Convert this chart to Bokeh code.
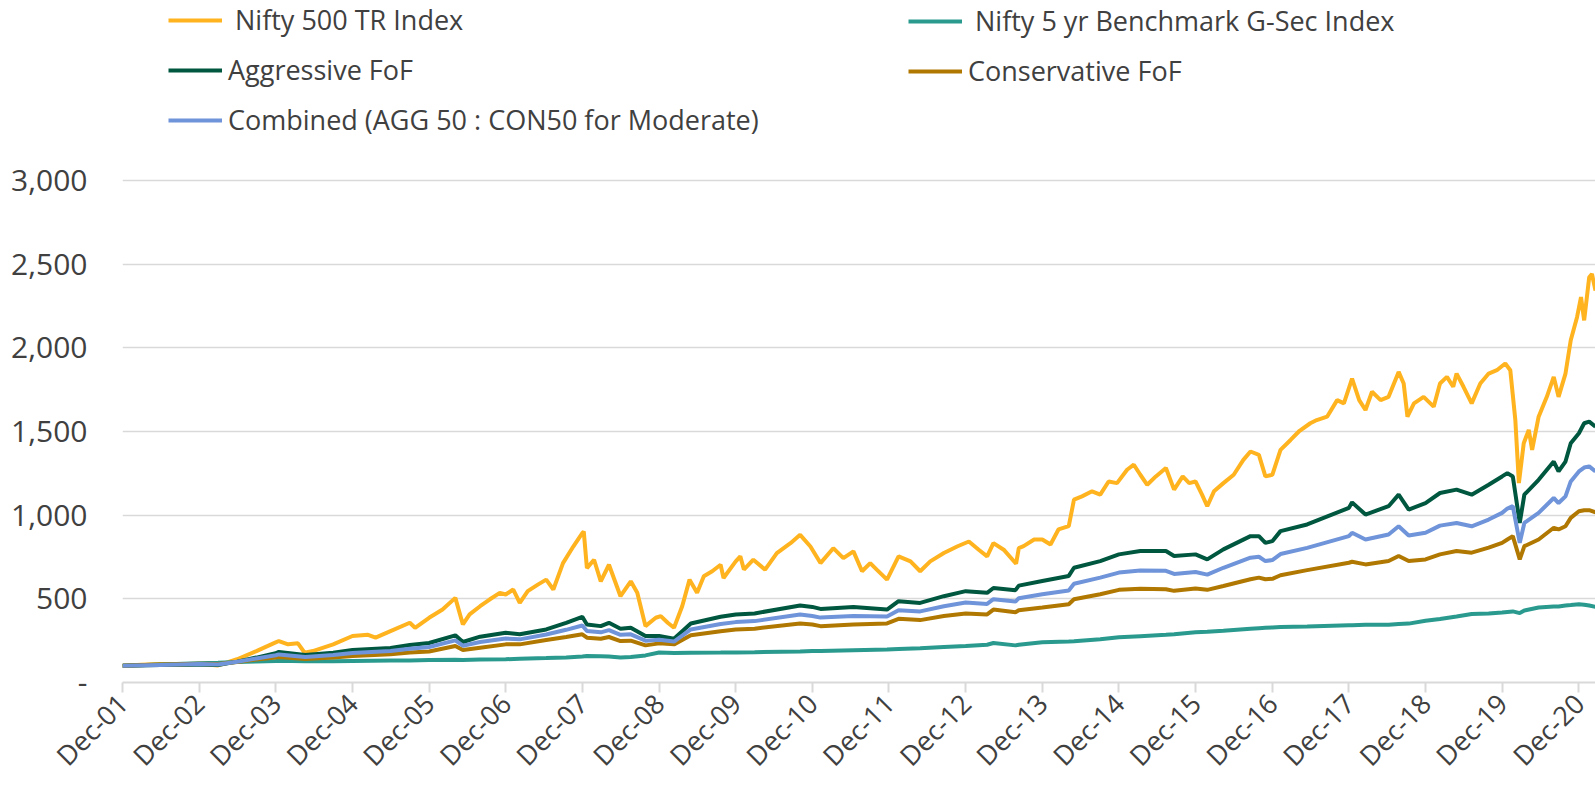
import math
import pandas as pd
from bokeh.plotting import figure
from bokeh.models import Range1d, FixedTicker, Legend, LegendItem
from bokeh.embed import file_html
from bokeh.resources import INLINE

# ---------------- data ----------------
nifty_dates = [
    "2001-12-31", "2002-03-31", "2002-06-30", "2002-09-30", "2002-12-31", "2003-03-31", "2003-06-30",
    "2003-09-30", "2003-12-31", "2004-01-15", "2004-02-28", "2004-04-15", "2004-05-17", "2004-06-25",
    "2004-09-30", "2004-12-31", "2005-03-15", "2005-04-20", "2005-06-30", "2005-09-30", "2005-10-25",
    "2005-12-31", "2006-03-05", "2006-05-05", "2006-06-10", "2006-07-12", "2006-08-31", "2006-10-15",
    "2006-12-03", "2006-12-31", "2007-02-05", "2007-03-08", "2007-04-15", "2007-06-02", "2007-07-12",
    "2007-08-15", "2007-09-30", "2007-11-18", "2007-12-31", "2008-01-07", "2008-01-22", "2008-02-25",
    "2008-03-28", "2008-05-06", "2008-06-30", "2008-08-18", "2008-09-18", "2008-10-27", "2008-12-15",
    "2009-01-08", "2009-02-10", "2009-03-12", "2009-04-20", "2009-05-25", "2009-06-30", "2009-08-01",
    "2009-09-10", "2009-10-20", "2009-11-03", "2009-12-31", "2010-01-22", "2010-02-08", "2010-03-25",
    "2010-05-20", "2010-07-15", "2010-09-18", "2010-11-03", "2010-12-22", "2011-02-08", "2011-04-10",
    "2011-05-28", "2011-07-15", "2011-08-25", "2011-10-03", "2011-11-03", "2011-12-22", "2012-02-15",
    "2012-04-12", "2012-05-28", "2012-07-15", "2012-09-18", "2012-11-20", "2013-01-15", "2013-03-03",
    "2013-04-12", "2013-05-12", "2013-06-30", "2013-08-28", "2013-09-10", "2013-10-03", "2013-11-22",
    "2013-12-31", "2014-02-08", "2014-03-18", "2014-05-06", "2014-05-31", "2014-07-08", "2014-08-25",
    "2014-10-03", "2014-11-12", "2014-12-22", "2015-02-08", "2015-03-12", "2015-04-12", "2015-05-15",
    "2015-06-25", "2015-08-12", "2015-09-20", "2015-10-31", "2015-12-01", "2015-12-31", "2016-01-31",
    "2016-02-25", "2016-03-28", "2016-05-12", "2016-06-30", "2016-08-15", "2016-09-18", "2016-10-28",
    "2016-11-28", "2016-12-31", "2017-02-08", "2017-03-28", "2017-05-10", "2017-06-30", "2017-07-31",
    "2017-09-18", "2017-11-05", "2017-12-07", "2018-01-15", "2018-02-18", "2018-03-20", "2018-04-20",
    "2018-05-31", "2018-07-08", "2018-08-25", "2018-09-18", "2018-10-06", "2018-11-06", "2018-12-22",
    "2019-02-08", "2019-03-10", "2019-04-12", "2019-05-12", "2019-05-28", "2019-06-30", "2019-08-08",
    "2019-09-18", "2019-10-28", "2019-12-06", "2020-01-15", "2020-02-08", "2020-03-03", "2020-03-20",
    "2020-04-12", "2020-05-06", "2020-05-22", "2020-06-22", "2020-07-31", "2020-09-02", "2020-09-25",
    "2020-10-28", "2020-11-22", "2020-12-22", "2021-01-10", "2021-01-25", "2021-02-18", "2021-03-03",
    "2021-03-20",
]
nifty_500_tr = [
    100, 106, 110, 104, 112, 102, 139,
    188, 240, 248, 228, 234, 178, 188,
    228, 278, 285, 268, 307, 357, 327,
    387, 436, 506, 347, 407, 456, 496,
    536, 526, 556, 476, 546, 585, 615,
    556, 714, 813, 893, 903, 684, 734,
    605, 704, 516, 605, 536, 337, 387,
    397, 357, 327, 456, 615, 536, 635,
    665, 704, 625, 724, 754, 675, 734,
    675, 774, 833, 883, 813, 714, 803,
    744, 784, 665, 714, 675, 615, 754,
    724, 665, 724, 774, 813, 843, 794,
    754, 833, 794, 710, 803, 815, 855,
    855, 825, 915, 935, 1093, 1113, 1143,
    1123, 1202, 1192, 1272, 1302, 1242, 1182,
    1232, 1282, 1153, 1232, 1192, 1202, 1123,
    1054, 1143, 1192, 1242, 1331, 1381, 1361,
    1232, 1242, 1391, 1450, 1505, 1550, 1569,
    1589, 1688, 1669, 1817, 1688, 1629, 1738,
    1688, 1708, 1857, 1788, 1589, 1669, 1708,
    1649, 1788, 1827, 1768, 1847, 1768, 1669,
    1788, 1847, 1867, 1907, 1867, 1569, 1192,
    1430, 1510, 1391, 1589, 1708, 1827, 1708,
    1847, 2046, 2184, 2304, 2165, 2423, 2442,
    2343,
]

fund_dates = [
    "2001-12-31", "2002-06-30", "2002-12-31", "2003-03-31", "2003-06-30", "2003-09-30", "2003-12-31",
    "2004-01-15", "2004-05-20", "2004-09-30", "2004-12-31", "2005-06-30", "2005-09-30", "2005-12-31",
    "2006-05-05", "2006-06-10", "2006-08-31", "2006-12-31", "2007-03-08", "2007-07-12", "2007-10-15",
    "2007-12-31", "2008-01-22", "2008-03-28", "2008-05-06", "2008-06-30", "2008-08-18", "2008-10-27",
    "2008-12-31", "2009-03-12", "2009-05-31", "2009-10-20", "2009-12-31", "2010-03-31", "2010-11-03",
    "2010-12-31", "2011-02-08", "2011-07-15", "2011-12-22", "2012-02-15", "2012-05-28", "2012-09-18",
    "2012-12-31", "2013-04-12", "2013-05-12", "2013-08-25", "2013-09-10", "2013-12-31", "2014-05-06",
    "2014-05-31", "2014-10-03", "2014-12-31", "2015-04-12", "2015-08-12", "2015-09-20", "2015-12-31",
    "2016-02-25", "2016-05-12", "2016-09-18", "2016-10-28", "2016-11-28", "2016-12-31", "2017-02-08",
    "2017-06-15", "2017-12-31", "2018-01-15", "2018-03-20", "2018-07-08", "2018-08-25", "2018-10-12",
    "2018-12-31", "2019-03-10", "2019-05-28", "2019-08-08", "2019-10-28", "2019-12-31", "2020-01-25",
    "2020-02-20", "2020-03-24", "2020-04-15", "2020-06-22", "2020-09-02", "2020-09-25", "2020-10-28",
    "2020-11-22", "2020-12-31", "2021-01-25", "2021-02-18", "2021-03-20",
]
aggressive_fof = [
    100, 104, 108, 104, 125, 149, 175,
    183, 165, 178, 194, 206, 224, 236,
    282, 242, 274, 298, 288, 317, 357,
    393, 347, 337, 357, 321, 327, 278,
    278, 262, 353, 393, 407, 413, 460,
    452, 440, 452, 436, 486, 476, 516,
    546, 536, 565, 552, 579, 607, 637,
    686, 726, 766, 786, 786, 756, 766,
    736, 796, 875, 875, 835, 845, 905,
    945, 1044, 1077, 1004, 1054, 1123, 1034,
    1073, 1133, 1153, 1123, 1182, 1232, 1252,
    1232, 954, 1123, 1212, 1321, 1262, 1321,
    1430, 1490, 1550, 1560, 1530,
]
conservative_fof = [
    100, 107, 112, 110, 123, 138, 150,
    153, 140, 150, 159, 169, 180, 185,
    218, 194, 208, 228, 228, 254, 272,
    288, 268, 262, 272, 248, 250, 222,
    234, 228, 282, 307, 317, 322, 353,
    347, 337, 347, 353, 381, 373, 397,
    413, 407, 436, 420, 432, 448, 468,
    498, 528, 554, 560, 558, 548, 562,
    554, 577, 617, 627, 617, 620, 641,
    672, 716, 722, 706, 726, 756, 726,
    736, 766, 786, 776, 806, 835, 855,
    875, 736, 815, 855, 925, 915, 934,
    984, 1024, 1030, 1030, 1018,
]
combined_moderate = [
    100, 105, 110, 107, 124, 144, 163,
    168, 152, 164, 177, 188, 202, 212,
    252, 220, 242, 263, 258, 287, 315,
    341, 308, 300, 313, 285, 288, 250,
    256, 245, 317, 350, 361, 367, 407,
    398, 388, 398, 394, 432, 425, 456,
    478, 470, 498, 484, 504, 528, 550,
    590, 627, 657, 670, 668, 649, 661,
    645, 686, 746, 752, 726, 732, 768,
    805, 875, 895, 855, 885, 934, 879,
    895, 938, 954, 934, 974, 1014, 1040,
    1054, 835, 954, 1014, 1103, 1073, 1113,
    1202, 1262, 1285, 1292, 1262,
]
gsec_5yr = [
    100, 108, 115, 118, 122, 126, 129,
    130, 127, 127, 129, 131, 132, 134,
    136, 135, 137, 139, 142, 146, 150,
    156, 158, 157, 155, 150, 152, 162,
    179, 176, 178, 179, 180, 181, 186,
    188, 188, 193, 197, 200, 205, 212,
    218, 226, 236, 222, 226, 240, 245,
    247, 258, 270, 277, 285, 288, 300,
    303, 310, 322, 325, 327, 329, 332,
    335, 343, 343, 345, 345, 350, 352,
    369, 380, 395, 409, 412, 419, 422,
    425, 415, 430, 448, 455, 455, 460,
    463, 468, 465, 460, 452,
]

y_ticks = [0, 500, 1000, 1500, 2000, 2500, 3000]
y_tick_labels = ["-", "500", "1,000", "1,500", "2,000", "2,500", "3,000"]
x_tick_dates = ["%d-12-31" % y for y in range(2001, 2021)]
x_tick_labels = ["Dec-%02d" % (y % 100) for y in range(2001, 2021)]

series_names = [" Nifty 500 TR Index", " Nifty 5 yr Benchmark G-Sec Index", "Aggressive FoF",
                "Conservative FoF", "Combined (AGG 50 : CON50 for Moderate)"]

# ---------------- styling ----------------
FONT = "Open Sans"
TEXT = "#404040"
GRID = "#d9d9d9"
COLORS = ["#FFB31F", "#2A9A8F", "#00573F", "#B07800", "#6F94D9"]

W, H = 1595, 789
LEFT, BOTTOM = 122, 104          # frame left / bottom border in px
ZERO_Y = H - BOTTOM               # pixel row of the 0 line
Y3000 = 181                       # pixel row of the 3,000 gridline
y_top = 3000 * ZERO_Y / (ZERO_Y - Y3000)   # value at the top of the canvas (room for legend)


def ms(s):
    return pd.Timestamp(s).value // 10**6


nx = pd.to_datetime(nifty_dates)
fx = pd.to_datetime(fund_dates)

p = figure(width=W, height=H, output_backend="svg", toolbar_location=None,
           x_axis_type="datetime",
           x_range=Range1d(start=pd.Timestamp(nifty_dates[0]), end=pd.Timestamp(nifty_dates[-1])),
           y_range=Range1d(start=0, end=y_top),
           min_border_left=LEFT, min_border_right=0, min_border_top=0, min_border_bottom=BOTTOM)
p.outline_line_color = None
p.background_fill_color = "white"
p.border_fill_color = "white"

p.xgrid.visible = False
p.ygrid.grid_line_color = GRID
p.ygrid.grid_line_width = 1.6
p.ygrid.ticker = FixedTicker(ticks=y_ticks)

p.yaxis.ticker = FixedTicker(ticks=y_ticks)
p.yaxis.major_label_overrides = {t: l for t, l in zip(y_ticks, y_tick_labels)}
p.yaxis.axis_line_color = None
p.yaxis.major_tick_line_color = None
p.yaxis.major_tick_in = 0
p.yaxis.major_tick_out = 0
p.yaxis.minor_tick_line_color = None
p.yaxis.major_label_standoff = 35
p.yaxis.major_label_text_font = FONT
p.yaxis.major_label_text_font_size = "30px"
p.yaxis.major_label_text_color = TEXT

x_ticks = [ms(d) for d in x_tick_dates]
p.xaxis.ticker = FixedTicker(ticks=x_ticks)
p.xaxis.major_label_overrides = {t: l for t, l in zip(x_ticks, x_tick_labels)}
p.xaxis.major_label_orientation = math.pi / 4
p.xaxis.axis_line_color = GRID
p.xaxis.axis_line_width = 2
p.xaxis.major_tick_line_color = GRID
p.xaxis.major_tick_line_width = 2
p.xaxis.major_tick_in = 0
p.xaxis.major_tick_out = 10
p.xaxis.minor_tick_line_color = None
p.xaxis.major_label_standoff = 6
p.xaxis.major_label_text_font = FONT
p.xaxis.major_label_text_font_size = "27px"
p.xaxis.major_label_text_color = TEXT

r_nifty = p.line(nx, nifty_500_tr, line_color=COLORS[0], line_width=4)
r_gsec = p.line(fx, gsec_5yr, line_color=COLORS[1], line_width=4)
r_agg = p.line(fx, aggressive_fof, line_color=COLORS[2], line_width=4)
r_con = p.line(fx, conservative_fof, line_color=COLORS[3], line_width=4)
r_comb = p.line(fx, combined_moderate, line_color=COLORS[4], line_width=4)


def make_legend(items, loc):
    return Legend(items=items, location=loc, orientation="vertical",
                  border_line_color=None, background_fill_alpha=0,
                  padding=0, margin=0, spacing=13,
                  glyph_width=54, glyph_height=26, label_height=26, label_standoff=6,
                  label_text_font=FONT, label_text_font_size="27px", label_text_color=TEXT)


leg1 = make_legend([LegendItem(label=series_names[0], renderers=[r_nifty]),
                    LegendItem(label=series_names[2], renderers=[r_agg]),
                    LegendItem(label=series_names[4], renderers=[r_comb])], (46, 544))
leg2 = make_legend([LegendItem(label=series_names[1], renderers=[r_gsec]),
                    LegendItem(label=series_names[3], renderers=[r_con])], (786, 593))
p.add_layout(leg1, "center")
p.add_layout(leg2, "center")

open("out.html", "w").write(file_html(p, INLINE))
